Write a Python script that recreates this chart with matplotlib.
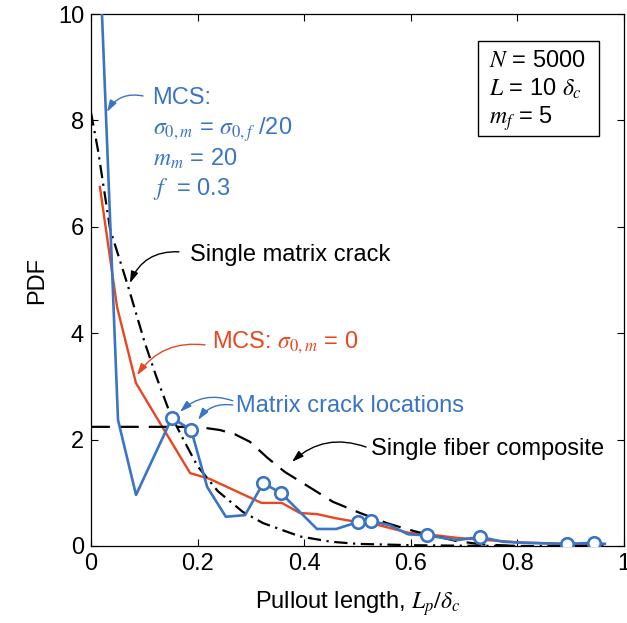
import matplotlib
matplotlib.use("Agg")
import matplotlib.pyplot as plt
from matplotlib.patches import Rectangle

plt.rcParams['font.family'] = ['Liberation Sans', 'DejaVu Sans']
plt.rcParams['mathtext.fontset'] = 'stix'

# Monte Carlo simulation with matrix flaws (sigma_0m = sigma_0f/20, m_m = 20, f = 0.3)
mcs_x = [0.0167, 0.0507, 0.0845, 0.152, 0.188, 0.218, 0.253, 0.289, 0.323, 0.356,
         0.424, 0.46, 0.501, 0.525, 0.561, 0.595, 0.63, 0.687, 0.73, 0.773,
         0.81, 0.85, 0.893, 0.944, 0.964]
mcs_y = [11.0, 2.37, 0.96, 2.41, 2.18, 1.11, 0.55, 0.58, 1.18, 1.00,
         0.32, 0.32, 0.45, 0.47, 0.39, 0.22, 0.20, 0.11, 0.17, 0.08,
         0.06, 0.05, 0.04, 0.06, 0.04]
# points marking matrix crack locations on the MCS curve
crack_x = [0.152, 0.188, 0.323, 0.356, 0.501, 0.525, 0.63, 0.73, 0.893, 0.944]
crack_y = [2.41, 2.18, 1.18, 1.00, 0.45, 0.47, 0.20, 0.17, 0.04, 0.06]

# Monte Carlo simulation without matrix flaws (sigma_0m = 0)
mcs0_x = [0.0167, 0.049, 0.0845, 0.186, 0.223, 0.32, 0.358, 0.392, 0.424, 0.46,
          0.50, 0.525, 0.595, 0.63, 0.69, 0.73, 0.80, 0.89, 0.96]
mcs0_y = [6.75, 4.49, 3.06, 1.37, 1.26, 0.81, 0.81, 0.62, 0.60, 0.52,
          0.45, 0.43, 0.25, 0.22, 0.15, 0.12, 0.07, 0.04, 0.0]

# Analytical: single matrix crack
smc_x = [0.0, 0.013, 0.036, 0.069, 0.101, 0.122, 0.148, 0.176, 0.2, 0.238,
         0.285, 0.323, 0.392, 0.45, 0.5, 0.6, 0.7, 0.8, 0.96]
smc_y = [8.15, 7.45, 5.95, 4.9, 3.82, 3.2, 2.5, 1.95, 1.5, 1.03,
         0.64, 0.43, 0.18, 0.08, 0.04, 0.015, 0.005, 0.0, 0.0]

# Analytical: single fiber composite
sfc_x = [0.0, 0.1, 0.2, 0.242, 0.27, 0.298, 0.332, 0.364, 0.398, 0.454,
         0.505, 0.555, 0.585, 0.61, 0.687, 0.735, 0.8]
sfc_y = [2.24, 2.24, 2.24, 2.18, 2.1, 1.96, 1.65, 1.39, 1.18, 0.83,
         0.62, 0.43, 0.34, 0.27, 0.09, 0.03, 0.0]

x_ticks = [0, 0.2, 0.4, 0.6, 0.8, 1]
x_ticklabels = ['0', '0.2', '0.4', '0.6', '0.8', '1']
y_ticks = [0, 2, 4, 6, 8, 10]

BLUE = '#3a74c4'
RED = '#e8461f'
FS = 17

fig = plt.figure(figsize=(6.27, 6.23), dpi=100)
ax = fig.add_axes([0.1451, 0.1236, 0.8501, 0.8539])

ax.plot(mcs0_x, mcs0_y, color=RED, lw=1.7, zorder=2)
ax.plot(smc_x, smc_y, color='black', lw=1.6, dashes=(6, 2.5, 1, 2.5), zorder=3)
ax.plot(sfc_x, sfc_y, color='black', lw=1.6, dashes=(8.5, 4.5), zorder=3)
ax.plot(mcs_x, mcs_y, color=BLUE, lw=1.9, zorder=4)
ax.plot(crack_x, crack_y, 'o', color=BLUE, mfc='white', mec=BLUE, ms=9, mew=1.9, zorder=5)

ax.set_xlim(0, 1)
ax.set_ylim(0, 10)
ax.set_xticks(x_ticks)
ax.set_xticklabels(x_ticklabels)
ax.set_yticks(y_ticks)
ax.tick_params(direction='in', top=True, right=True, length=5, width=0.8,
               labelsize=FS, pad=5)
for s in ax.spines.values():
    s.set_linewidth(0.9)

ax.set_xlabel('Pullout length, $L_p/\\delta_c$', fontsize=FS, labelpad=10)
ax.set_ylabel('PDF', fontsize=FS, labelpad=7)

# parameter box
ax.add_patch(Rectangle((0.726, 0.771), 0.227, 0.178, transform=ax.transAxes,
                       fill=False, edgecolor='black', lw=1.0, zorder=6))
ax.text(0.747, 9.00, '$N$ = 5000', fontsize=FS, va='baseline')
ax.text(0.747, 8.46, '$L$ = 10 $\\delta_c$', fontsize=FS, va='baseline')
ax.text(0.747, 7.93, '$m_f$ = 5', fontsize=FS, va='baseline')

# MCS annotation block
ax.text(0.114, 8.31, 'MCS:', color=BLUE, fontsize=FS, va='baseline')
ax.text(0.116, 7.73, '$\\sigma_{0,m}$ = $\\sigma_{0,f}$ /20', color=BLUE, fontsize=FS, va='baseline')
ax.text(0.116, 7.14, '$m_m$ = 20', color=BLUE, fontsize=FS, va='baseline')
ax.text(0.116, 6.60, '$f$  = 0.3', color=BLUE, fontsize=FS, va='baseline')

ax.text(0.186, 5.36, 'Single matrix crack', color='black', fontsize=FS, va='baseline')
ax.text(0.227, 3.72, 'MCS: $\\sigma_{0,m}$ = 0', color=RED, fontsize=FS, va='baseline')
ax.text(0.272, 2.52, 'Matrix crack locations', color=BLUE, fontsize=FS, va='baseline')
ax.text(0.525, 1.71, 'Single fiber composite', color='black', fontsize=FS, va='baseline')

def arrow(tail, head, color, rad):
    ax.annotate('', xy=head, xytext=tail,
                arrowprops=dict(arrowstyle='-|>,head_length=0.7,head_width=0.22',
                                color=color, lw=1.0, shrinkA=0, shrinkB=0,
                                connectionstyle=f'arc3,rad={rad}'), zorder=6)

arrow((0.0976, 8.46), (0.030, 8.16), BLUE, 0.35)
arrow((0.165, 5.53), (0.073, 4.94), 'black', 0.35)
arrow((0.214, 3.78), (0.0863, 3.21), RED, 0.3)
arrow((0.266, 2.73), (0.167, 2.52), BLUE, 0.3)
arrow((0.266, 2.65), (0.201, 2.37), BLUE, 0.3)
arrow((0.516, 1.86), (0.377, 1.58), 'black', 0.3)

fig.savefig('out.png', dpi=100)
